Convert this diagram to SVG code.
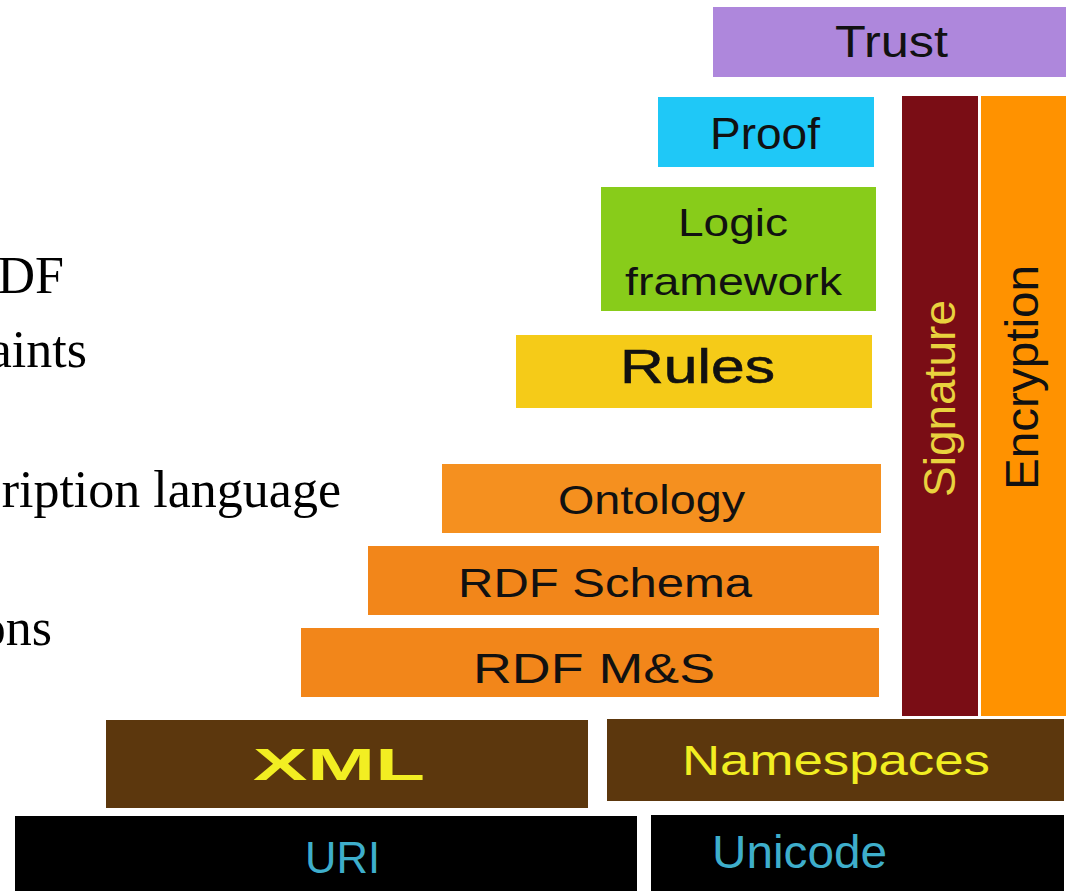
<svg xmlns="http://www.w3.org/2000/svg" width="1072" height="891" viewBox="0 0 1072 891">
<style>
.lbl{font-family:"Liberation Sans",Arial,Helvetica,sans-serif;}
.dark{fill:#111111;}
.yel{fill:#f2ee22;}
.cyan{fill:#3eaecb;}
.bg{font-family:"Liberation Serif","Times New Roman",serif;font-size:52px;fill:#000;text-anchor:end;}
</style>
<rect width="1072" height="891" fill="#ffffff"/>
<g id="background-text">
<text class="bg" x="64" y="293">DF</text>
<text class="bg" x="87" y="367">aints</text>
<text class="bg" x="341" y="507">ription language</text>
<text class="bg" x="52" y="645">ons</text>
</g>
<g id="trust">
<rect x="713" y="7" width="353" height="70" fill="#ae87dc"/>
<text class="lbl dark" x="835" y="57" font-size="44" textLength="113" lengthAdjust="spacingAndGlyphs">Trust</text>
</g>
<g id="proof">
<rect x="658" y="97" width="216" height="70" fill="#1fc8f7"/>
<text class="lbl dark" x="710" y="149" font-size="44" textLength="110" lengthAdjust="spacingAndGlyphs">Proof</text>
</g>
<g id="logic-framework">
<rect x="601" y="187" width="275" height="124" fill="#88cc1a"/>
<text class="lbl dark" x="678" y="236" font-size="39" textLength="110" lengthAdjust="spacingAndGlyphs">Logic</text>
<text class="lbl dark" x="625" y="295" font-size="39" textLength="217" lengthAdjust="spacingAndGlyphs">framework</text>
</g>
<g id="rules">
<rect x="516" y="335" width="356" height="73" fill="#f5cb18"/>
<text class="lbl dark" x="620" y="383" font-size="49" textLength="155" lengthAdjust="spacingAndGlyphs" stroke="#111" stroke-width="0.6">Rules</text>
</g>
<g id="ontology">
<rect x="442" y="464" width="439" height="69" fill="#f5901f"/>
<text class="lbl dark" x="558" y="514" font-size="40" textLength="187" lengthAdjust="spacingAndGlyphs">Ontology</text>
</g>
<g id="rdf-schema">
<rect x="368" y="546" width="511" height="69" fill="#f2861a"/>
<text class="lbl dark" x="458" y="597" font-size="41" textLength="294" lengthAdjust="spacingAndGlyphs">RDF Schema</text>
</g>
<g id="rdf-ms">
<rect x="301" y="628" width="578" height="69" fill="#f2861a"/>
<text class="lbl dark" x="473" y="683" font-size="42" textLength="242" lengthAdjust="spacingAndGlyphs">RDF M&amp;S</text>
</g>
<g id="signature">
<rect x="902" y="96" width="76" height="620" fill="#7a0d15"/>
<text class="lbl" fill="#e9d23e" transform="translate(955,497) rotate(-90)" x="0" y="0" font-size="44" textLength="197" lengthAdjust="spacingAndGlyphs">Signature</text>
</g>
<g id="encryption">
<rect x="981" y="96" width="85" height="620" fill="#ff9200"/>
<text class="lbl dark" transform="translate(1038,490) rotate(-90)" x="0" y="0" font-size="46" textLength="225" lengthAdjust="spacingAndGlyphs">Encryption</text>
</g>
<g id="xml">
<rect x="106" y="720" width="482" height="88" fill="#5c370d"/>
<text class="lbl yel" x="253" y="780" font-size="44" font-weight="bold" textLength="172" lengthAdjust="spacingAndGlyphs">XML</text>
</g>
<g id="namespaces">
<rect x="607" y="719" width="457" height="82" fill="#5c370d"/>
<text class="lbl yel" x="682" y="775" font-size="42" textLength="308" lengthAdjust="spacingAndGlyphs">Namespaces</text>
</g>
<g id="uri">
<rect x="15" y="816" width="622" height="75" fill="#000000"/>
<text class="lbl cyan" x="305" y="873" font-size="44" textLength="75" lengthAdjust="spacingAndGlyphs">URI</text>
</g>
<g id="unicode">
<rect x="651" y="815" width="413" height="76" fill="#000000"/>
<text class="lbl cyan" x="712" y="868" font-size="46" textLength="175" lengthAdjust="spacingAndGlyphs">Unicode</text>
</g>
</svg>
